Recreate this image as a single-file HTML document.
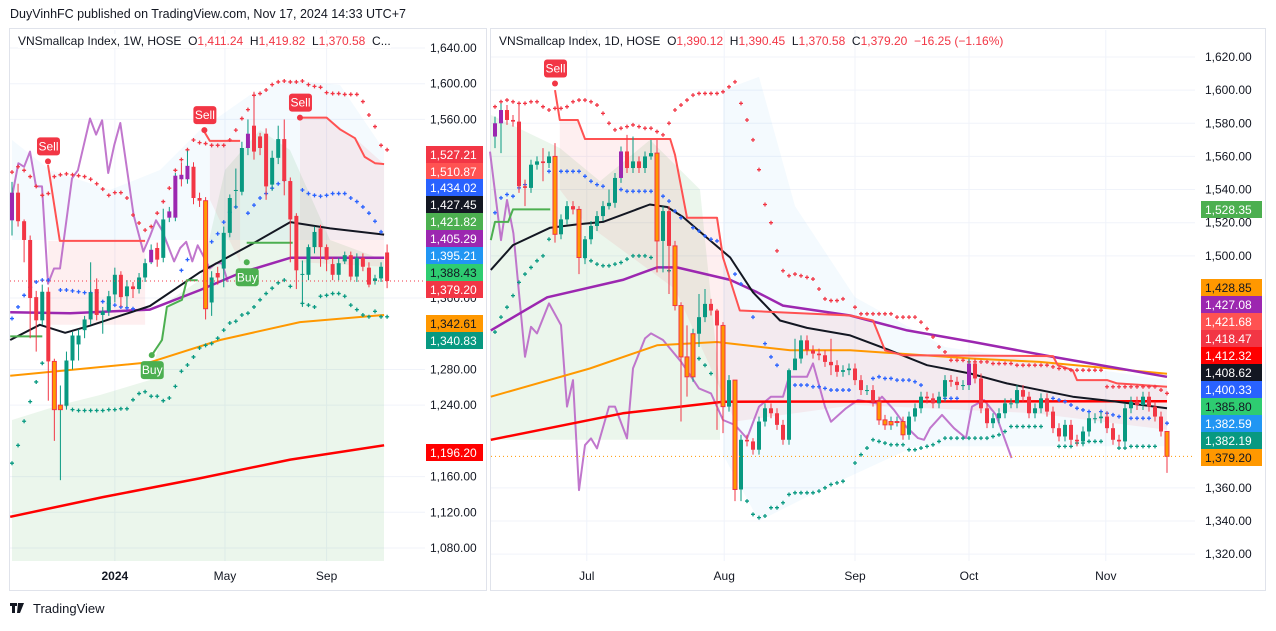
<!DOCTYPE html>
<html><head><meta charset="utf-8"><style>
body{margin:0;width:1276px;height:626px;background:#fff;overflow:hidden;font-family:"Liberation Sans",sans-serif;}
svg text{font-family:"Liberation Sans",sans-serif;}
</style></head><body>
<svg id="c" width="1276" height="626" xmlns="http://www.w3.org/2000/svg">
<rect x="0" y="0" width="1276" height="626" fill="#fff"/>
<text x="10" y="18" font-size="12.5" fill="#131722">DuyVinhFC published on TradingView.com, Nov 17, 2024 14:33 UTC+7</text>
<rect x="9.5" y="28.5" width="477" height="562" fill="#fff" stroke="#e0e3eb"/>
<rect x="490.5" y="28.5" width="775" height="562" fill="#fff" stroke="#e0e3eb"/>
<g id="L"></g><g id="R"></g>
<g><rect x="10" y="603" width="7" height="3" fill="#131722"/><rect x="12" y="603" width="3" height="10" fill="#131722"/><path d="M18 603h6l-4 10h-3z" fill="#131722"/><text x="33" y="613" font-size="13" fill="#131722">TradingView</text></g>
</svg>
<script>
// ---------- LEFT (weekly) data ----------
const lOpen=[1447,1478,1446,1425,1361,1335,1367,1289,1235,1240,1290,1308,1324,1336,1370,1341,1345,1364,1386,1362,1373,1370,1383,1400,1416,1405,1450,1450,1498,1493,1507,1472,1469,1355,1388,1393,1433,1480,1479,1528,1553,1541,1544,1487,1517,1538,1491,1452,1386,1386,1417,1438,1417,1398,1386,1401,1408,1384,1405,1394,1379,1382,1411];
const lClose=[1478,1446,1425,1360,1335,1367,1289,1235,1240,1290,1318,1318,1336,1366,1341,1345,1362,1386,1361,1373,1370,1383,1399,1414,1403,1448,1457,1497,1493,1508,1472,1469,1348,1383,1383,1433,1472,1481,1528,1544,1524,1528,1485,1517,1538,1491,1448,1391,1387,1417,1434,1417,1403,1386,1399,1408,1384,1405,1395,1375,1382,1395,1379];
const lHigh=[1490,1488,1448,1430,1368,1375,1372,1292,1262,1300,1322,1325,1340,1400,1382,1350,1368,1394,1390,1380,1378,1388,1404,1420,1422,1460,1462,1500,1512,1525,1512,1478,1473,1390,1395,1440,1476,1505,1535,1560,1591,1545,1550,1525,1553,1560,1495,1455,1402,1420,1440,1442,1420,1405,1405,1412,1412,1410,1410,1400,1386,1400,1420];
const lLow=[1430,1440,1400,1315,1300,1330,1245,1200,1156,1235,1280,1290,1315,1330,1335,1320,1340,1355,1350,1350,1360,1365,1378,1398,1395,1400,1445,1446,1485,1488,1465,1462,1336,1340,1375,1372,1428,1460,1475,1520,1515,1520,1470,1480,1510,1475,1400,1370,1350,1380,1410,1395,1390,1380,1380,1398,1380,1378,1390,1372,1375,1378,1371];
const lOrangeIdx=[7,8,32];
const lPurpleIdx=[0,23,26,27,28,29,39];
const lMA200=[[-0.3,1115],[15,1137],[31,1158],[46,1179],[61.5,1195]];
const lMA100=[[-0.3,1273],[22.8,1288],[34.4,1313],[47.6,1333],[61.5,1341]];
const lMA50=[[-0.3,1344],[9.6,1343],[22.8,1347],[31.1,1369],[37.7,1388],[46,1405],[61.5,1405]];
const lMA20=[[-0.3,1313],[4.6,1330],[8.8,1321],[12.9,1329],[22.8,1351],[31.1,1389],[39.3,1419],[46,1445],[52.6,1438],[61.5,1431]];
const lStop1=[[5.95,1509],[7.9,1424],[22,1424]];
const lStop2=[[31.8,1546],[32.7,1536],[37.7,1536]];
const lStop3=[[47.6,1562],[52,1562],[54.2,1549],[56.7,1539],[58.3,1518],[60,1511],[61.5,1510]];
const lSup1=[[-0.3,1317],[5,1317]];
const lSup2=[[23.1,1296],[24.8,1313],[25.6,1350],[28.1,1358],[28.9,1380],[30.7,1380]];
const lSup3=[[38.8,1422],[46.4,1422]];
const lOsc=[[0.1,1477],[1.05,1511],[2,1507],[2.98,1524],[3.97,1485],[4.96,1485],[5.95,1376],[6.95,1393],[7.94,1393],[9.92,1494],[10.9,1503],[12.9,1561],[13.9,1543],[14.9,1559],[15.9,1500],[16.9,1531],[17.9,1556],[20.1,1453],[21.7,1412],[22.8,1429],[23.8,1447],[24.8,1436],[26.8,1401],[27.8,1416],[28.8,1423],[29.8,1401],[30.7,1419],[31.7,1406],[32.7,1393],[33.7,1399],[34.7,1399],[35.7,1378]];
// dot bands: [startIndex, values...] (null = no dot)
const lRedDotsStart=0;
const lRedDots=[1501,1507,1503,1496,1485,1475,1477,1496,1498,1499,1498,1497,1496,1493,1488,1482,1475,1478,1478,1472,1453,1444,1436,1440,1455,1468,1483,1503,1515,1526,1537,1534,1533,1531,1531,1531,1537,1548,1561,1571,1587,1589,1593,1599,1602,1603,1602,1602,1603,1599,1597,1596,1590,1589,1589,1588,1588,1588,1580,1565,1552,1531,1526];
const lGreenDotsStart=0;
const lGreenDots=[1175,1195,1222,1244,1266,1287,null,null,null,1240,1235,1234,1234,1234,1234,1234,1235,1235,1236,1236,1246,1253,1255,1250,1250,1245,1248,1261,1278,1285,1294,1304,1307,1309,1315,1324,1332,1334,1341,1343,1350,1358,1365,1371,1377,1380,1373,null,1354,1352,1350,1362,1363,1365,1365,1362,1352,1347,1341,1339,1345,1339,1339];
const lBlueDotsStart=0;
const lBlueDots=[1337,1350,1363,1372,1378,1380,1380,null,1369,1369,1368,1367,1366,1366,1366,1356,1354,1352,1350,1349,1348,null,null,null,null,null,null,null,1391,1403,null,null,null,1423,1432,1445,1456,1462,null,1455,1464,1472,1477,1483,1488,1492,null,null,1481,1477,1475,1474,1475,1477,1477,1477,1472,1468,1462,1455,1446,1434];
const lTicks=[1640,1600,1560,1360,1280,1240,1160,1120,1080];
const lTimeLabels=["2024","May","Sep"];
const lTimeIdx=[17,35.2,52];
const lAxisLabels=["1,527.21","1,510.87","1,434.02","1,427.45","1,421.82","1,405.29","1,395.21","1,388.43","1,379.20","1,342.61","1,340.83","1,196.20"];
const lAxisColors=["#f23645","#ff5252","#2962ff","#131722","#4caf50","#9c27b0","#2196f3","#2ecc71","#f23645","#ff9800","#089981","#ff0000"];
const lAxisTop=[146,163,179,196,213,230,247,264,281,315,332,444];

// ---------- RIGHT (daily) data ----------
const rClose=[1580,1588,1582,1581,1542,1541,1555,1557,1556,1560,1513,1522,1530,1528,1499,1510,1518,1524,1530,1532,1547,1563,1553,1557,1553,1560,1562,1509,1527,1506,1470,1439,1427,1453,1463,1471,1467,1458,1409,1425,1359,1389,1388,1383,1400,1408,1405,1398,1389,1431,1438,1449,1443,1441,1440,1436,1434,1430,1431,1432,1425,1419,1419,1412,1401,1398,1400,1400,1392,1403,1408,1415,1414,1411,1415,1425,1424,1422,1422,1435,1426,1408,1399,1402,1405,1411,1411,1419,1415,1405,1408,1414,1406,1396,1391,1398,1389,1388,1394,1402,1402,1403,1396,1389,1388,1408,1412,1410,1415,1409,1403,1394,1379];
const rFirstOpen=1572;
const rOrangeIdx=[10,14,27,30,31,32,33,38,40,64,65,66,67,68,112];
const rPurpleIdx=[0,1,21,79];
const rLongWicks=[[0,1584,1565],[1,1592,1562],[4,1592,1538],[5,1546,1530],[8,1565,1545],[10,1568,1508],[14,1530,1489],[15,1512,1495],[19,1540,1528],[22,1573,1550],[23,1572,1550],[26,1570,1558],[27,1570,1490],[28,1530,1490],[29,1530,1477],[31,1472,1400],[32,1458,1415],[34,1477,1445],[35,1480,1460],[37,1468,1395],[38,1460,1393],[40,1400,1352],[41,1392,1352],[43,1390,1380],[49,1432,1386],[50,1450,1432],[56,1450,1428],[112,1390,1369]];
const rMA200=[[-0.7,1389],[21.3,1405],[38,1412],[112,1412.3]];
const rMA100=[[-0.7,1415],[15.8,1432],[27,1446],[37,1448],[49.2,1443],[59.2,1443],[79.7,1438],[90.8,1436],[112,1428.8]];
const rMA50=[[-0.7,1455],[8.7,1475],[21.3,1485.5],[27,1493],[30.3,1493],[39.2,1485.5],[43.7,1478],[48,1470],[59.2,1464],[68.7,1455],[79.7,1448],[93,1439],[112,1427]];
const rMA20=[[-0.7,1491.5],[3,1506.5],[9.2,1517],[13.7,1519],[18,1520.5],[25.8,1531],[28.7,1529.5],[31.3,1523.5],[35.3,1511],[39.2,1499],[43,1478],[47.5,1461],[52,1456.5],[59.2,1452],[65.8,1443],[72,1434],[79.2,1429],[85.3,1423],[96.3,1415],[103.7,1412],[112,1408]];
const rStop=[[10,1600],[10.8,1582],[13.8,1582],[15,1570.5],[29.2,1570.5],[30,1561],[32,1523],[37,1523],[38,1499],[40.8,1467],[59.2,1464],[63,1461],[65,1443],[68,1440],[93,1439.5],[93.8,1434],[96.3,1431],[97,1425],[102,1425],[103.7,1423],[112,1421]];
const rSup=[[-0.7,1509.5],[0,1520.5],[2.2,1520.5],[3,1528],[9.2,1528]];
const rOsc=[[-0.83,1562.9],[1,1509.5],[2,1533.7],[3.06,1513.6],[5,1439.1],[6,1457.2],[7,1453.2],[9,1471.3],[11,1458.2],[12,1409],[13,1425],[14,1358.6],[15,1385.8],[16,1389.8],[17,1383.8],[19,1409],[20,1409],[22,1389.8],[23,1432.1],[25,1450.2],[26,1453.2],[28,1449.2],[31,1436.1],[34,1420],[36,1417],[38,1400.9],[40,1397.9],[42,1389.8],[44,1409],[46,1415],[48,1415],[49,1427],[52,1427],[53,1435.1],[55,1409],[56,1399.9],[58.5,1408],[60.5,1413],[63.5,1411],[64.5,1415],[66.5,1407],[68.5,1397],[70.5,1390],[71.5,1389],[72.5,1396],[74.5,1404],[76.5,1396],[78.5,1390],[79.5,1409],[81.5,1413],[83.5,1404],[85.5,1384],[86.1,1378]];
const rRedDotsStart=0;
const rRedDots=[1590,1593,1594,1593,1592,1592,1593,1593,1590,1588,1589,1589,1590,1593,1594,1594,1593,1591,1586,1580,1576,1577,1578,1579,1578,1577,1577,1575,1573,1580,1588,1591,1594,1597,1598,1598,1598,1598,1599,1602,1605,1592,1582,1570,1552,1531,1520,1503,1491,1488,1489,1488,1487,1486,1480,1474,1473,1473,1474,null,1469,1465,1465,1465,1465,1465,1465,1463,1463,1463,1463,1460,1456,1451,1445,1442,1437,1437,1437,1436,1436,1436,1436,1435,1435,1435,1435,1434,1434,1434,1434,1434,1434,1433,1432,1432,1431,1431,1431,1431,1431,1431,1421,1421,1421,1421,1421,1421,1421,1421,1421,1419,1417];
const rBlueDotsStart=0;
const rBlueDots=[1526,1535,1537,1536,1541,1543,1544,null,null,1551,1551,1551,1551,1551,1551,1548,1545,1543,1542,null,null,1540,1539,1539,1539,1539,1539,null,1536,1533,1527,1523,null,1517,1515,1512,1510,1509,null,null,1489,1483,null,1463,null,1447,1439,1434,null,null,1422,1422,1422,1421,1421,1420,1419,1419,1419,1419,null,null,null,1426,1427,1426,1426,1425,1425,1425,1424,1422,null,null,null,1414,1414,1414,null,null,null,null,null,null,null,null,null,null,null,null,null,null,null,1414,1413,1412,1410,1408,1407,1406,null,1406,1405,1404,1403,null,1402,1402,1402,1402,null,null,1399];
const rGreenDotsStart=0;
const rGreenDots=[1454,1463,1469,1476,1484,1489,1493,1497,1500,1510,null,null,null,null,null,1499,1497,1495,1494,1494,1495,1496,1498,1500,1500,1500,1499,null,null,1491,null,null,null,null,1438,1434,1429,null,null,null,null,null,1352,1344,1342,1343,1348,1348,1351,1356,1357,1357,1357,1357,1358,1360,1362,1363,1364,null,1375,1380,1384,1389,1388,1387,1386,1386,1386,1383,1383,1384,1385,1386,1388,1390,1390,1390,1390,1390,1390,1390,1390,1391,1392,1394,1397,1397,1397,1397,1397,1397,null,null,1385,1385,1385,1387,1387,1388,1388,1388,null,null,1384,1384,1385,1385,1385,1385,1385];
const rTicks=[1620,1600,1580,1560,1540,1520,1500,1360,1340,1320];
const rTimeLabels=["Jul","Aug","Sep","Oct","Nov"];
const rTimeIdx=[15.3,38.2,60,79,101.8];
const rAxisLabels=["1,528.35","1,428.85","1,427.08","1,421.68","1,418.47","1,412.32","1,408.62","1,400.33","1,385.80","1,382.59","1,382.19","1,379.20"];
const rAxisColors=["#4caf50","#ff9800","#9c27b0","#ff5252","#f23645","#ff0000","#131722","#2962ff","#2ecc71","#2196f3","#089981","#ff9800"];
const rAxisTop=[201,279,296,313,330,347,364,381,398,415,432,449];

// ---------- scales ----------
const xL=i=>12+i*6.05, yL=p=>48+(1640-p)*0.8929;
const xR=i=>495+i*6, yR=p=>57+(1620-p)*1.657;
const NS="http://www.w3.org/2000/svg";
function mk(parent,tag,attrs){const e=document.createElementNS(NS,tag);for(const k in attrs)e.setAttribute(k,attrs[k]);parent.appendChild(e);return e;}
function fmt(v){return v.toFixed(2).replace(/\B(?=(\d{3})+(?!\d))/g,",");}
function path(pts,xs,ys){return pts.map((p,i)=>(i?"L":"M")+xs(p[0]).toFixed(1)+" "+ys(p[1]).toFixed(1)).join(" ");}

function drawPanel(g,o){
  o.ticks.forEach(t=>{const l=mk(g,"line",{x1:o.x0,x2:o.x1,y1:o.ys(t),y2:o.ys(t),stroke:"#f0f3fa"});
    
    });
  o.tIdx.forEach(i=>{const l=mk(g,"line",{x1:o.xs(i),x2:o.xs(i),y1:30,y2:561,stroke:"#f0f3fa"});
    
    });
  o.fills.forEach(f=>{const p=mk(g,"path",{d:f.d,fill:f.c});
    
    });
  o.lines.forEach(L=>{const p=mk(g,"path",{d:path(L.pts,o.xs,o.ys),fill:"none",stroke:L.c,"stroke-width":L.w,"stroke-linejoin":"round",opacity:L.op||1});
    
    });
  // dots
  o.dots.forEach(D=>{D.v.forEach((v,k)=>{if(v==null)return;const x=o.xs(D.s+k),y=o.ys(v);
    const d=mk(g,"path",{d:`M${x-2} ${y}h4M${x} ${y-2}v4`,stroke:D.c,"stroke-width":1.3});
    
    });});
  const w=o.cw;
  for(let i=0;i<o.close.length;i++){
    const op=o.open[i],cl=o.close[i],hi=o.high[i],lo=o.low[i];
    let col=cl>=op?"#089981":"#f23645", border=col;
    if(o.purple.includes(i)) col="#9c27b0";
    if(o.orange.includes(i)){col="#ff9800";border="#f23645";}
    const x=o.xs(i);
    const wk=mk(g,"line",{x1:x,x2:x,y1:o.ys(hi),y2:o.ys(lo),stroke:cl>=op?"#089981":"#f23645","stroke-width":1});
    
    
    const yt=o.ys(Math.max(op,cl)),yb=o.ys(Math.min(op,cl));
    const b=mk(g,"rect",{x:x-w/2,y:yt,width:w,height:Math.max(1,yb-yt),fill:col,stroke:border,"stroke-width":o.orange.includes(i)?1:0});
    
    
  }
  const lp=mk(g,"line",{x1:o.x0,x2:o.x1,y1:o.ys(o.close[o.close.length-1]),y2:o.ys(o.close[o.close.length-1]),stroke:o.lastCol,"stroke-dasharray":"1 3"});
  
  
  o.ticks.forEach(t=>{const tx=mk(g,"text",{x:o.ax,y:o.ys(t)+4,"font-size":12,fill:"#131722"});tx.textContent=fmt(t);
    
    });
  o.aLab.forEach((s,i)=>{const r=mk(g,"rect",{x:o.ax-4,y:o.aTop[i],width:o.aw,height:17,fill:o.aCol[i]});
    
    
    const dark=["#2ecc71","#ff9800"].includes(o.aCol[i]);
    const tx=mk(g,"text",{x:o.ax,y:o.aTop[i]+13,"font-size":12,fill:dark?"#131722":"#fff"});tx.textContent=s;
    
    });
  o.tLab.forEach((s,i)=>{const tx=mk(g,"text",{x:o.xs(o.tIdx[i]),y:580,"font-size":12,fill:"#131722","text-anchor":"middle","font-weight":s=="2024"?"bold":"normal"});tx.textContent=s;
    
    });
  o.markers.forEach(m=>{const x=o.xs(m.i),y=o.ys(m.p);const c=m.t=="Sell"?"#f23645":"#4caf50";
    const gg=mk(g,"g",{});
    
    
    const ty=m.t=="Sell"?y-24:y+6;
    mk(gg,"rect",{x:x-11,y:ty,width:23,height:18,rx:3,fill:c});
    mk(gg,"circle",{cx:x,cy:y,r:3,fill:c});
    const tx=mk(gg,"text",{x:x+0.5,y:ty+13,"font-size":12,fill:"#fff","text-anchor":"middle"});tx.textContent=m.t;});
}

const lg=document.getElementById("L");
const lFills=[
 {c:"rgba(76,175,80,0.11)",d:"M12 420 L60 405 L100 395 L150 380 L170 300 L200 280 L225 170 L260 130 L290 150 L330 240 L384 260 L384 561 L12 561 Z"},
 {c:"rgba(242,54,69,0.08)",d:`M${xL(6)} ${yL(1424)} L${xL(22)} ${yL(1424)} L${xL(22)} ${yL(1330)} L${xL(6)} ${yL(1330)} Z M${xL(32.7)} ${yL(1536)} L${xL(37.7)} ${yL(1536)} L${xL(37.7)} ${yL(1400)} L${xL(32.7)} ${yL(1470)} Z M${xL(47.6)} ${yL(1562)} L${xL(52)} ${yL(1562)} L${xL(56.7)} ${yL(1539)} L${xL(61.5)} ${yL(1510)} L${xL(61.5)} ${yL(1395)} L${xL(47.6)} ${yL(1400)} Z`},
 {c:"rgba(33,150,243,0.05)",d:"M12 140 L50 170 L110 190 L160 170 L200 130 L250 95 L290 80 L340 85 L384 150 L384 240 L12 240 Z"}];
drawPanel(lg,{x0:10,x1:425,xs:xL,ys:yL,cw:4,open:lOpen,close:lClose,high:lHigh,low:lLow,orange:lOrangeIdx,purple:lPurpleIdx,
 ticks:lTicks,tIdx:lTimeIdx,tLab:lTimeLabels,aLab:lAxisLabels,aCol:lAxisColors,aTop:lAxisTop,ax:430,aw:57,lastCol:"#f23645",
 fills:lFills,
 dots:[{s:lRedDotsStart,v:lRedDots,c:"#f23645",n:"upper-band-dot"},{s:lBlueDotsStart,v:lBlueDots,c:"#2962ff",n:"middle-band-dot"},{s:lGreenDotsStart,v:lGreenDots,c:"#089981",n:"lower-band-dot"}],
 lines:[{pts:lOsc,c:"#ba68c8",w:2,n:"oscillator-line",op:0.9},{pts:lMA200,c:"#ff0000",w:2.5,n:"ma200-line"},{pts:lMA100,c:"#ff9800",w:2,n:"ma100-line"},{pts:lMA50,c:"#9c27b0",w:2.5,n:"ma50-line"},{pts:lMA20,c:"#131722",w:2,n:"ma20-line"},
  {pts:lStop1,c:"#ff5252",w:2,n:"stop-line"},{pts:lStop2,c:"#ff5252",w:2,n:"stop-line"},{pts:lStop3,c:"#ff5252",w:2,n:"stop-line"},
  {pts:lSup1,c:"#4caf50",w:2,n:"support-line"},{pts:lSup2,c:"#4caf50",w:2,n:"support-line"},{pts:lSup3,c:"#4caf50",w:2,n:"support-line"}],
 markers:[{t:"Sell",i:5.95,p:1513},{t:"Sell",i:31.8,p:1548},{t:"Sell",i:47.6,p:1562},{t:"Buy",i:23.1,p:1296},{t:"Buy",i:38.8,p:1400}]});

const rOpen=rClose.map((c,i)=>i?rClose[i-1]:rFirstOpen);
const rHigh=rClose.map((c,i)=>Math.max(c,rOpen[i])+3);
const rLow=rClose.map((c,i)=>Math.min(c,rOpen[i])-3);
rLongWicks.forEach(w=>{rHigh[w[0]]=w[1];rLow[w[0]]=w[2];});
const rg=document.getElementById("R");
const rFills=[
 {c:"rgba(76,175,80,0.11)",d:`M491 ${yR(1585)} L560 ${yR(1565)} L600 ${yR(1545)} L650 ${yR(1570)} L700 ${yR(1540)} L720 ${yR(1420)} L720 ${yR(1389)} L491 ${yR(1389)} Z`},
 {c:"rgba(242,54,69,0.08)",d:"M"+rStop.slice(1).map(p=>xR(p[0]).toFixed(1)+" "+yR(p[1]).toFixed(1)).join(" L")+` L${xR(112)} ${yR(1395)} L${xR(90)} ${yR(1405)} L${xR(60)} ${yR(1410)} L${xR(40)} ${yR(1400)} L${xR(30)} ${yR(1480)} L${xR(15)} ${yR(1520)} L${xR(10.8)} ${yR(1540)} Z`},
 {c:"rgba(33,150,243,0.05)",d:`M${xR(38)} ${yR(1600)} L${xR(44)} ${yR(1608)} L${xR(50)} ${yR(1530)} L${xR(60)} ${yR(1475)} L${xR(75)} ${yR(1445)} L${xR(112)} ${yR(1425)} L${xR(112)} ${yR(1385)} L${xR(70)} ${yR(1385)} L${xR(55)} ${yR(1360)} L${xR(44)} ${yR(1340)} L${xR(38)} ${yR(1380)} Z`}];
drawPanel(rg,{x0:491,x1:1195,xs:xR,ys:yR,cw:4,open:rOpen,close:rClose,high:rHigh,low:rLow,orange:rOrangeIdx,purple:rPurpleIdx,
 ticks:rTicks,tIdx:rTimeIdx,tLab:rTimeLabels,aLab:rAxisLabels,aCol:rAxisColors,aTop:rAxisTop,ax:1205,aw:61,lastCol:"#ff9800",
 fills:rFills,
 dots:[{s:rRedDotsStart,v:rRedDots,c:"#f23645",n:"upper-band-dot"},{s:rBlueDotsStart,v:rBlueDots,c:"#2962ff",n:"middle-band-dot"},{s:rGreenDotsStart,v:rGreenDots,c:"#089981",n:"lower-band-dot"}],
 lines:[{pts:rOsc,c:"#ba68c8",w:2,n:"oscillator-line",op:0.9},{pts:rMA200,c:"#ff0000",w:2.5,n:"ma200-line"},{pts:rMA100,c:"#ff9800",w:2,n:"ma100-line"},{pts:rMA50,c:"#9c27b0",w:2.5,n:"ma50-line"},{pts:rMA20,c:"#131722",w:2,n:"ma20-line"},
  {pts:rStop,c:"#ff5252",w:2,n:"stop-line"},{pts:rSup,c:"#4caf50",w:2,n:"support-line"}],
 markers:[{t:"Sell",i:10,p:1604}]});
</script>
<div style="position:absolute;left:18px;top:34px;font-size:12px;color:#131722;white-space:nowrap;background:#fff">VNSmallcap Index, 1W, HOSE&nbsp; O<span style="color:#f23645">1,411.24</span>&nbsp; H<span style="color:#f23645">1,419.82</span>&nbsp; L<span style="color:#f23645">1,370.58</span>&nbsp; C...</div>
<div style="position:absolute;left:499px;top:34px;font-size:12px;color:#131722;white-space:nowrap">VNSmallcap Index, 1D, HOSE&nbsp; O<span style="color:#f23645">1,390.12</span>&nbsp; H<span style="color:#f23645">1,390.45</span>&nbsp; L<span style="color:#f23645">1,370.58</span>&nbsp; C<span style="color:#f23645">1,379.20</span>&nbsp; <span style="color:#f23645">−16.25 (−1.16%)</span></div>
</body></html>
